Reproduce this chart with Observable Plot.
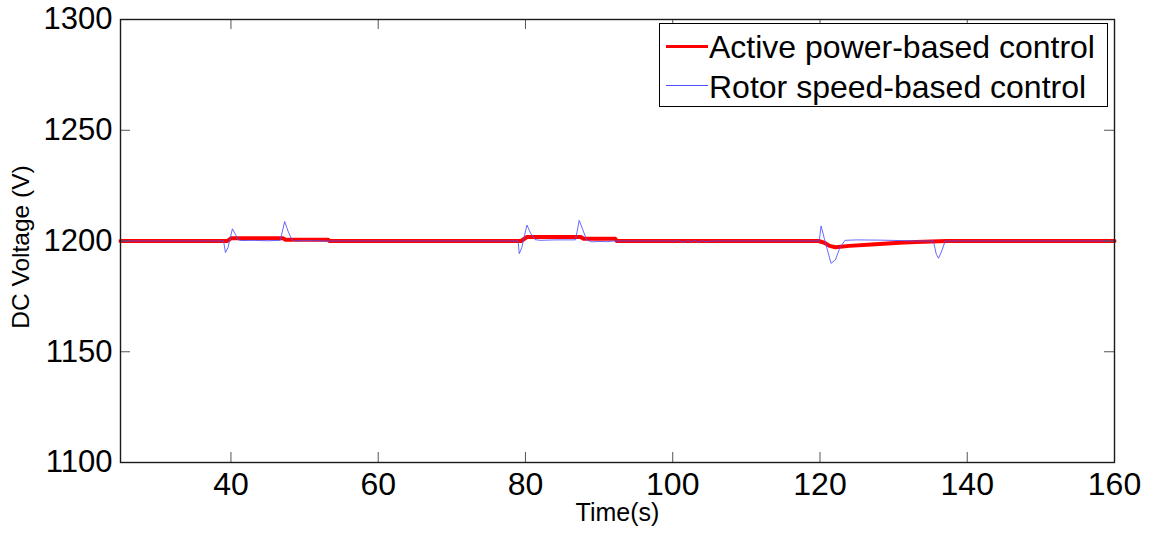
<!DOCTYPE html>
<html>
<head>
<meta charset="utf-8">
<script src="https://cdn.jsdelivr.net/npm/d3@7"></script>
<script src="https://cdn.jsdelivr.net/npm/@observablehq/plot@0.6"></script>
<style>
  body { margin: 0; background: #fff; }
  #wrap { position: relative; width: 1155px; height: 533px; font-family: "Liberation Sans", Arial, sans-serif; }
  #legend { position: absolute; left: 659px; top: 23px; width: 447px; height: 82px; border: 1px solid #000; background: #fff; }
  .row { position: absolute; left: 0; height: 40px; line-height: 40px; font-size: 32px; color: #000; white-space: nowrap; }
  .sw { position: absolute; left: 6px; width: 42px; }
  .txt { position: absolute; left: 49px; top: 0; }
</style>
</head>
<body>
<div id="wrap"></div>
<script>
// ---- data ----
const xTicks = [40, 60, 80, 100, 120, 140, 160];
const yTicks = [1100, 1150, 1200, 1250, 1300];
const seriesNames = ["Active power-based control", "Rotor speed-based control"];

const redTime = [25, 39.5, 40.0, 47.1, 47.4, 53.2, 53.4, 79.4, 80.2, 87.5, 87.9, 92.2, 92.4,
  119.8, 120.6, 121.3, 122.1, 124, 127, 130.8, 133, 137.2, 160];
const redVolt = [1200, 1200, 1201.2, 1201.2, 1200.6, 1200.6, 1200, 1200, 1201.8, 1201.8, 1201, 1201, 1200,
  1200, 1199.2, 1197.8, 1197.2, 1197.8, 1198.4, 1199.2, 1199.6, 1200, 1200];

const blueTime = [25, 39.0, 39.25, 39.6, 40.2, 40.6, 41.0, 41.5, 43, 45, 46.7, 47.3, 47.8, 48.3, 48.8, 50, 53,
  79.0, 79.15, 79.5, 80.2, 80.7, 81.3, 82, 84, 86.8, 87.3, 87.8, 88.3, 89, 90, 91, 92,
  101, 101.5, 102, 102.5, 103, 103.5, 104, 104.5, 105,
  119.9, 120.15, 120.6, 121.5, 122.1, 122.7, 123.4, 125, 128, 131, 133,
  135.4, 135.8, 136.1, 136.6, 137.0, 160];
const blueVolt = [1200, 1200, 1194.8, 1197, 1205.5, 1203, 1200.5, 1200.2, 1200.3, 1200.1, 1200.3, 1208.8, 1204, 1200.5, 1200, 1200.2, 1200,
  1200, 1194.3, 1197, 1207.2, 1203.5, 1200.6, 1200.3, 1200.5, 1200.5, 1209.3, 1205, 1200.5, 1199.6, 1199.8, 1199.7, 1200,
  1200, 1199.5, 1200.3, 1199.6, 1200.2, 1199.5, 1200.2, 1199.7, 1200,
  1200, 1206.8, 1201, 1189.9, 1191.5, 1197, 1200.3, 1200.5, 1200.4, 1200.2, 1200,
  1200, 1194, 1192.2, 1196, 1200, 1200];

const red = redTime.map((t, i) => ({t, v: redVolt[i]}));
const blue = blueTime.map((t, i) => ({t, v: blueVolt[i]}));

const W = 1155, H = 533;
const mL = 120, mR = 41, mT = 19, mB = 71;
const fw = W - mL - mR, fh = H - mT - mB;
const tickLen = 10;

const chart = Plot.plot({
  width: W, height: H,
  marginLeft: mL, marginRight: mR, marginTop: mT, marginBottom: mB,
  style: { fontFamily: "'Liberation Sans', Arial, sans-serif", background: "#fff", color: "#000" },
  x: { domain: [25, 160] },
  y: { domain: [1100, 1300] },
  marks: [
    Plot.line(red, { x: "t", y: "v", stroke: "#ff0000", strokeWidth: 4, curve: "linear" }),
    Plot.line(blue, { x: "t", y: "v", stroke: "#4f4fff", strokeWidth: 1, strokeOpacity: 0.85, curve: "linear" }),
    // inward tick marks on all four sides
    Plot.tickX(xTicks, { x: d => d, stroke: "#555", strokeWidth: 1, insetTop: fh - tickLen }),
    Plot.tickX(xTicks, { x: d => d, stroke: "#555", strokeWidth: 1, insetBottom: fh - tickLen }),
    Plot.tickY(yTicks, { y: d => d, stroke: "#555", strokeWidth: 1, insetRight: fw - tickLen }),
    Plot.tickY(yTicks, { y: d => d, stroke: "#555", strokeWidth: 1, insetLeft: fw - tickLen }),
    Plot.frame({ stroke: "#1a1a1a", strokeWidth: 1.4 }),
    Plot.axisX({ ticks: xTicks, tickSize: 0, tickPadding: 10, fontSize: 32, label: null, tickFormat: d => String(d) }),
    Plot.axisY({ ticks: yTicks, tickSize: 0, tickPadding: 8, fontSize: 31, label: null, tickFormat: d => String(d) }),
    Plot.text(["Time(s)"], { frameAnchor: "bottom", textAnchor: "middle", dy: 58, fontSize: 25, fill: "#000" }),
    Plot.text(["DC Voltage (V)"], { frameAnchor: "left", textAnchor: "middle", dx: -99, dy: 6, rotate: -90, fontSize: 24.5, fill: "#000" })
  ]
});

const wrap = document.getElementById("wrap");
wrap.appendChild(chart);

// legend (drawn over the plot, top-right, MATLAB style)
const legend = document.createElement("div");
legend.id = "legend";
const styles = [
  { color: "#ff0000", width: 3, top: 2.6, lineTop: 20 },
  { color: "#4f4fff", width: 1, top: 42.6, lineTop: 19 }
];
seriesNames.forEach((name, i) => {
  const row = document.createElement("div");
  row.className = "row";
  row.style.top = styles[i].top + "px";
  row.style.width = "447px";
  const sw = document.createElement("div");
  sw.className = "sw";
  sw.style.top = (styles[i].lineTop - styles[i].width / 2) + "px";
  sw.style.borderTop = styles[i].width + "px solid " + styles[i].color;
  const txt = document.createElement("span");
  txt.className = "txt";
  txt.textContent = name;
  row.appendChild(sw);
  row.appendChild(txt);
  legend.appendChild(row);
});
wrap.appendChild(legend);
</script>
</body>
</html>
